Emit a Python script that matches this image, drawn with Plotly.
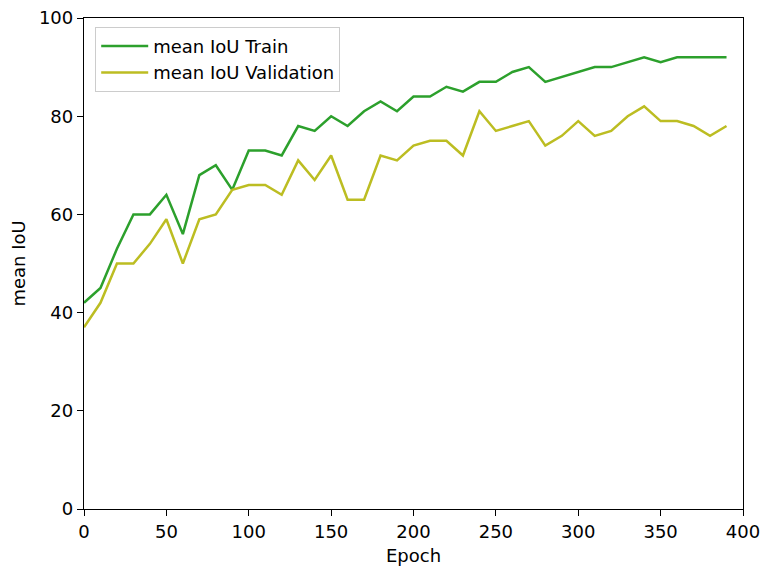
import plotly.graph_objects as go

epochs = list(range(0, 400, 10))
train_iou = [42, 45, 53, 60, 60, 64, 56, 68, 70, 65, 73, 73, 72, 78, 77, 80, 78, 81, 83, 81,
             84, 84, 86, 85, 87, 87, 89, 90, 87, 88, 89, 90, 90, 91, 92, 91, 92, 92, 92, 92]
val_iou = [37, 42, 50, 50, 54, 59, 50, 59, 60, 65, 66, 66, 64, 71, 67, 72, 63, 63, 72, 71,
           74, 75, 75, 72, 81, 77, 78, 79, 74, 76, 79, 76, 77, 80, 82, 79, 79, 78, 76, 78]

fig = go.Figure()
fig.add_trace(go.Scatter(x=epochs, y=train_iou, mode="lines", name="mean IoU Train",
                         line=dict(color="#2ca02c", width=2.5)))
fig.add_trace(go.Scatter(x=epochs, y=val_iou, mode="lines", name="mean IoU Validation",
                         line=dict(color="#bcbd22", width=2.5)))

axis_common = dict(showline=True, linecolor="black", linewidth=1.3, mirror=True,
                   ticks="outside", ticklen=6, tickwidth=1.3, tickcolor="black", showgrid=False,
                   zeroline=False, tickfont=dict(size=18, color="black"),
                   ticklabeloverflow="allow", automargin=False)
fig.update_layout(
    width=762, height=568,
    margin=dict(l=84, r=19, t=18, b=59),
    plot_bgcolor="white", paper_bgcolor="white",
    font=dict(family="DejaVu Sans", size=18, color="black"),
    xaxis=dict(range=[0, 400], dtick=50,
               title=dict(text="Epoch", standoff=8, font=dict(size=18)), **axis_common),
    yaxis=dict(range=[0, 100], dtick=20,
               title=dict(text="mean IoU", standoff=8, font=dict(size=18)), **axis_common),
    legend=dict(x=0.017, y=0.982, xanchor="left", yanchor="top",
                bordercolor="#cccccc", borderwidth=1, bgcolor="rgba(255,255,255,0.8)",
                font=dict(size=18), itemwidth=47),
)
fig.write_html("out.html")
